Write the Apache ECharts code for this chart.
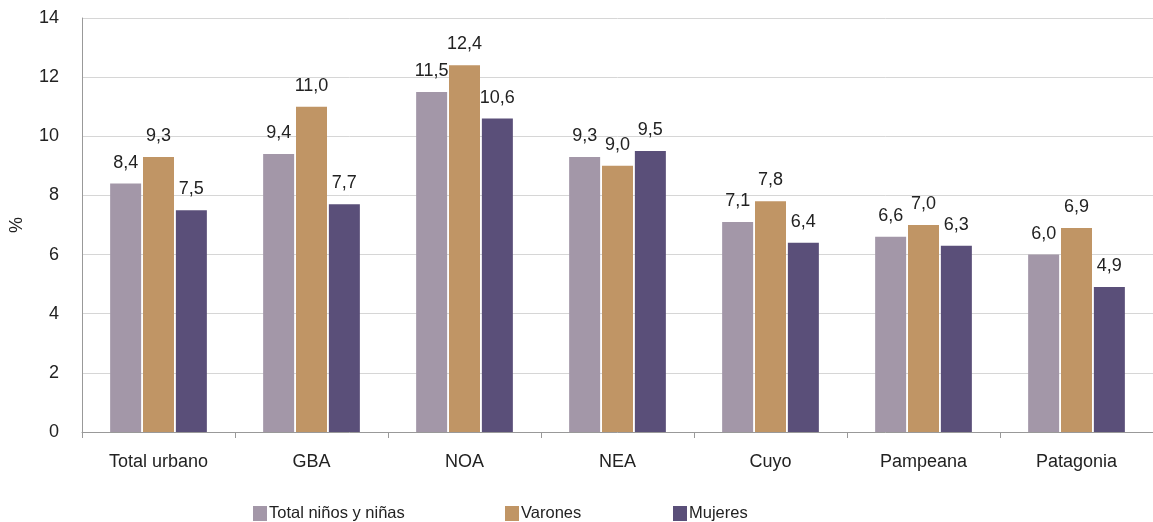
<!DOCTYPE html>
<html>
<head>
<meta charset="utf-8">
<script src="https://cdn.jsdelivr.net/npm/echarts@6/dist/echarts.min.js"></script>
<style>html,body{margin:0;padding:0;background:#fff}#c{width:1153px;height:522px}</style>
</head>
<body>
<div id="c"></div>
<script>
var categories = ['Total urbano', 'GBA', 'NOA', 'NEA', 'Cuyo', 'Pampeana', 'Patagonia'];
var totalValues = [8.4, 9.4, 11.5, 9.3, 7.1, 6.6, 6.0];
var varonesValues = [9.3, 11.0, 12.4, 9.0, 7.8, 7.0, 6.9];
var mujeresValues = [7.5, 7.7, 10.6, 9.5, 6.4, 6.3, 4.9];
var seriesNames = ['Total niños y niñas', 'Varones', 'Mujeres'];
var yTicks = [0, 2, 4, 6, 8, 10, 12, 14];

var colors = ['#a397a8', '#c09565', '#5a4f79'];
var font = 'Liberation Sans, Arial, Helvetica, sans-serif';
var chart = echarts.init(document.getElementById('c'));

function fmt(p) { return p.value.toFixed(1).replace('.', ','); }

function mkSeries(name, data, color) {
  return {
    name: name, type: 'bar', data: data, barWidth: 31, barGap: '6%',
    itemStyle: { color: color },
    label: { show: true, position: 'top', distance: 12, formatter: fmt,
      color: '#222', fontSize: 18, fontFamily: font }
  };
}
function mkLegend(name, left) {
  return { data: [name], left: left, top: 500, itemWidth: 14, itemHeight: 15, itemGap: 0,
    icon: 'rect', textStyle: { fontSize: 16.5, color: '#222', fontFamily: font, padding: [0, 0, 0, -3] } };
}

chart.setOption({
  animation: false,
  color: colors,
  grid: { left: 78, right: 0, top: 18, bottom: 90 },
  legend: [mkLegend(seriesNames[0], 248), mkLegend(seriesNames[1], 500), mkLegend(seriesNames[2], 668)],
  xAxis: {
    type: 'category', data: categories,
    axisLine: { lineStyle: { color: '#999', width: 1 } },
    axisTick: { show: true, length: 6, lineStyle: { color: '#999' } },
    axisLabel: { color: '#222', fontSize: 18, fontFamily: font, margin: 21 }
  },
  yAxis: {
    type: 'value', min: yTicks[0], max: yTicks[yTicks.length - 1], interval: 2,
    name: '%', nameLocation: 'middle', nameGap: 56, nameRotate: 90,
    nameTextStyle: { color: '#222', fontSize: 18, fontFamily: font },
    axisLine: { show: true, lineStyle: { color: '#999' } },
    axisTick: { show: false },
    splitLine: { lineStyle: { color: '#d6d6d6' } },
    axisLabel: { color: '#222', fontSize: 18, fontFamily: font, margin: 23 }
  },
  series: [
    mkSeries(seriesNames[0], totalValues, colors[0]),
    mkSeries(seriesNames[1], varonesValues, colors[1]),
    mkSeries(seriesNames[2], mujeresValues, colors[2])
  ]
});
</script>
</body>
</html>
